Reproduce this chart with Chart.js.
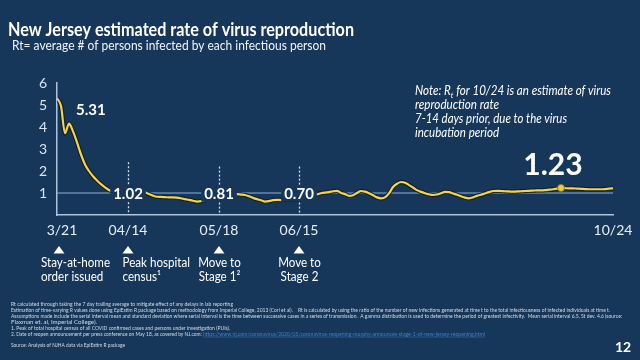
<!DOCTYPE html>
<html><head><meta charset="utf-8">
<script src="https://cdn.jsdelivr.net/npm/chart.js@4.4.1/dist/chart.umd.min.js"></script>
<style>html,body{margin:0;padding:0;background:#17375a;overflow:hidden}</style>
</head><body>
<canvas id="c" width="640" height="360"></canvas>
<script>
// ---- data ----
const RT_VALUES = [
5.31,4.95,3.71,4.15,3.80,3.30,2.75,2.30,2.00,1.76,
1.57,1.40,1.26,1.14,1.06,1.04,1.03,1.02,1.02,1.03,
1.04,1.04,1.03,0.95,0.88,0.83,0.82,0.81,0.80,0.80,
0.79,0.76,0.72,0.69,0.65,0.61,0.63,0.70,0.76,0.80,
0.81,0.84,0.88,0.92,0.95,0.95,0.93,0.91,0.85,0.78,
0.72,0.67,0.61,0.63,0.68,0.69,0.68,0.69,0.70,0.70,
0.70,0.72,0.78,0.84,0.89,0.94,0.99,1.02,1.04,1.08,
1.10,1.00,0.95,0.87,0.90,1.00,1.09,1.06,0.99,0.90,
0.80,0.76,0.80,0.98,1.27,1.42,1.50,1.47,1.36,1.25,
1.13,1.05,0.99,0.94,0.91,0.93,0.99,1.05,1.04,0.98,
0.92,0.85,0.79,0.76,0.80,0.87,0.92,0.98,1.04,1.09,
1.10,1.09,1.08,1.07,1.06,1.07,1.08,1.09,1.10,1.11,
1.12,1.12,1.13,1.15,1.17,1.20,1.23,1.22,1.21,1.21,
1.20,1.19,1.18,1.17,1.17,1.17,1.17,1.18,1.20,1.21
];
const TICK_POS = [1.25, 17.75, 40.5, 60.5, 139];
const TICK_LABELS = ['3/21', '04/14', '05/18', '06/15', '10/24'];
const Y_TICKS = [1, 2, 3, 4, 5, 6];
const MILESTONE_TEXT = [['Stay-at-home', 'order issued'], ['Peak hospital', 'census\u00b9'], ['Move to', 'Stage 1\u00b2'], ['Move to', 'Stage 2']];
const MILESTONE_VALUES = ['1.02', '0.81', '0.70'];
const PEAK_INDEX = 0, PEAK_LABEL = '5.31';
const LATEST_INDEX = 126, LATEST_VALUE = 1.23, LATEST_LABEL = '1.23';

const TITLE = 'New Jersey estimated rate of virus reproduction';
const SUBTITLE = 'Rt= average # of persons infected by each infectious person';
const NOTE_LINES = ['reproduction rate', '7-14 days prior, due to the virus', 'incubation period'];
const FOOTNOTES = [
 'Rt calculated through taking the 7 day trailing average to mitigate effect of any delays in lab reporting',
 'Estimation of time-varying R values done using EpiEstim R package based on methodology from Imperial College, 2013 (Cori et al).    Rt is calculated by using the ratio of the number of new infections generated at time t to the total infectiousness of infected individuals at time t.',
 'Assumptions made include the serial interval mean and standard deviation where serial interval is the time between successive cases in a series of transmission.  A gamma distribution is used to determine the period of greatest infectivity.  Mean serial interval 6.5, St dev. 4.6 (source:',
 'Flaxman et. al, Imperial College).',
 '1. Peak of total hospital census of all COVID confirmed cases and persons under investigation (PUIs).',
 '2. Date of reopen announcement per press conference on May 18, as covered by NJ.com: '
];
const FOOT_LINK = 'https://www.nj.com/coronavirus/2020/05/coronavirus-reopening-murphy-announces-stage-1-of-new-jersey-reopening.html';
const SOURCE = 'Source: Analysis of NJHA data via EpiEstim R package';
const PAGE = '12';

// ---- style ----
const BG = '#17375a';
const FONT = 'Lato, "Noto Sans", sans-serif';

function fitText(ctx, text, x, y, w, font, color, align, baseline) {
  ctx.save();
  ctx.font = font; ctx.fillStyle = color; ctx.textAlign = 'left'; ctx.textBaseline = baseline || 'alphabetic';
  const m = ctx.measureText(text).width;
  const s = w ? w / m : 1;
  let x0 = x;
  if (align === 'center') x0 = x - m * s / 2;
  ctx.translate(x0, y); ctx.scale(s, 1); ctx.fillText(text, 0, 0);
  ctx.restore();
  return m * s;
}
function measure(ctx, text, font) { ctx.save(); ctx.font = font; const w = ctx.measureText(text).width; ctx.restore(); return w; }

const deco = {
  id: 'deco',
  beforeDraw(chart) {
    const c = chart.ctx; c.save(); c.fillStyle = BG; c.fillRect(0, 0, chart.width, chart.height); c.restore();
  },
  beforeDatasetsDraw(chart) {
    const { ctx, chartArea: a, scales: { x, y } } = chart;
    ctx.save();
    ctx.strokeStyle = '#8fb1da'; ctx.lineWidth = 1.2;
    const y1 = y.getPixelForValue(1);
    ctx.beginPath(); ctx.moveTo(a.left, y1); ctx.lineTo(a.right, y1); ctx.stroke();
    ctx.setLineDash([2, 2]); ctx.strokeStyle = '#d5dfeb'; ctx.lineWidth = 1.3;
    const tops = [2.4, 2.2, 2.2];
    [1, 2, 3].forEach((k, j) => {
      const px = Math.round(x.getPixelForValue(TICK_POS[k])) + 0.5;
      ctx.beginPath(); ctx.moveTo(px, y.getPixelForValue(tops[j])); ctx.lineTo(px, a.bottom); ctx.stroke();
    });
    ctx.restore();
  },
  afterDatasetsDraw(chart) {
    const { ctx, chartArea: a, scales: { x, y } } = chart;
    ctx.save();
    // milestone value labels
    ctx.font = 'bold 15px ' + FONT; ctx.textBaseline = 'middle'; ctx.textAlign = 'center';
    MILESTONE_VALUES.forEach((t, j) => {
      const cx = x.getPixelForValue(TICK_POS[j + 1]);
      const cy = y.getPixelForValue(1) + 0.5;
      const w = ctx.measureText(t).width;
      ctx.fillStyle = BG; ctx.fillRect(cx - w / 2 - 3, cy - 8, w + 6, 16);
      ctx.fillStyle = '#ffffff'; ctx.fillText(t, cx, cy + 0.5);
    });
    // peak label
    ctx.textAlign = 'left';
    ctx.fillText(PEAK_LABEL, x.getPixelForValue(PEAK_INDEX) + 19, y.getPixelForValue(RT_VALUES[PEAK_INDEX]) + 12);
    // latest label
    ctx.font = 'bold 30px ' + FONT; ctx.textAlign = 'center';
    ctx.fillText(LATEST_LABEL, x.getPixelForValue(LATEST_INDEX) - 8, y.getPixelForValue(LATEST_VALUE) - 23);
    ctx.restore();
    // milestone triangles & text
    const base = a.bottom;
    const mf = '13.5px ' + FONT, SX = 0.86;
    TICK_POS.slice(0, 4).forEach((p, k) => {
      let px = x.getPixelForValue(p);
      if (k === 0) px -= 3;
      ctx.save();
      ctx.fillStyle = '#ffffff';
      ctx.beginPath(); ctx.moveTo(px, base + 31); ctx.lineTo(px + 5.5, base + 38.5); ctx.lineTo(px - 5.5, base + 38.5); ctx.closePath(); ctx.fill();
      ctx.restore();
      MILESTONE_TEXT[k].forEach((ln, r) => {
        const yy = base + 47.5 + r * 14.5;
        const w = measure(ctx, ln, mf) * SX;
        if (k === 0) fitText(ctx, ln, px - 18, yy, w, mf, '#ffffff', 'left', 'middle');
        else if (k === 1) fitText(ctx, ln, px - 5.5, yy, w, mf, '#ffffff', 'left', 'middle');
        else fitText(ctx, ln, px + 0.5, yy, w, mf, '#ffffff', 'center', 'middle');
      });
    });
  },
  afterDraw(chart) {
    const ctx = chart.ctx;
    fitText(ctx, TITLE, 8, 36, 346, 'bold 18px ' + FONT, '#ffffff');
    fitText(ctx, SUBTITLE, 12, 50, 314, '14px ' + FONT, '#f2f5f9');
    // note, first line with subscript
    ctx.save();
    const segs = [['Note: R', 12.5, 0], ['t', 8, 2.5], [' for 10/24 is an estimate of virus', 12.5, 0]];
    let tot = 0;
    segs.forEach(s => { ctx.font = 'italic ' + s[1] + 'px ' + FONT; tot += ctx.measureText(s[0]).width; });
    const sc = 196 / tot;
    ctx.translate(415, 95); ctx.scale(sc, 1); ctx.fillStyle = '#ffffff'; ctx.textBaseline = 'alphabetic';
    let cx = 0;
    segs.forEach(s => { ctx.font = 'italic ' + s[1] + 'px ' + FONT; ctx.fillText(s[0], cx, s[2]); cx += ctx.measureText(s[0]).width; });
    ctx.restore();
    const noteW = [84, 152, 84];
    NOTE_LINES.forEach((t, i) => fitText(ctx, t, 415, 108.5 + i * 14, noteW[i], 'italic 12.5px ' + FONT, '#ffffff'));
    // footnotes
    const fw = [222, 599, 611, 86, 219, 192];
    const fy = [306, 312, 318, 324, 330, 336];
    FOOTNOTES.forEach((t, i) => fitText(ctx, t, 11, fy[i], fw[i], '5px ' + FONT, '#d3dbe6'));
    const lw = fitText(ctx, FOOT_LINK, 203, 336, 282, '5px ' + FONT, '#3f7fd0');
    ctx.save(); ctx.strokeStyle = '#3f7fd0'; ctx.lineWidth = 0.5; ctx.beginPath(); ctx.moveTo(203, 337); ctx.lineTo(203 + lw, 337); ctx.stroke(); ctx.restore();
    fitText(ctx, SOURCE, 11, 347, 114, '5px ' + FONT, '#d3dbe6');
    fitText(ctx, PAGE, 623, 352, 0, 'bold 14px ' + FONT, '#ffffff', 'center');
  }
};

new Chart(document.getElementById('c'), {
  type: 'line',
  data: {
    datasets: [
      { data: [{ x: LATEST_INDEX, y: LATEST_VALUE }], showLine: false, pointRadius: 3.5, pointBackgroundColor: '#f2cf3a', pointBorderColor: '#8a7a20', pointBorderWidth: 1, order: 0 },
      { data: RT_VALUES.map((v, i) => ({ x: i, y: v })), borderColor: '#f2d44e', borderWidth: 2.2, pointRadius: 0, cubicInterpolationMode: 'monotone', order: 1 },
      { data: RT_VALUES.map((v, i) => ({ x: i, y: v })), borderColor: 'rgba(18,22,24,0.8)', borderWidth: 4.4, pointRadius: 0, cubicInterpolationMode: 'monotone', order: 2 }
    ]
  },
  options: {
    responsive: false, animation: false, devicePixelRatio: 1,
    layout: { padding: { top: 83, right: 27, left: 0, bottom: 0 } },
    plugins: { legend: { display: false }, tooltip: { enabled: false } },
    scales: {
      x: {
        type: 'linear', min: 0, max: RT_VALUES.length - 1,
        grid: { display: false, drawTicks: false },
        border: { display: true, color: '#aec3de', width: 1.5 },
        afterBuildTicks: s => { s.ticks = TICK_POS.map(v => ({ value: v })); },
        afterFit: s => { s.height = 145; },
        ticks: { autoSkip: false, maxRotation: 0, padding: 7, color: '#e8eef5', font: { family: FONT, size: 14 },
          callback: (v, i) => TICK_LABELS[i] }
      },
      y: {
        min: 0, max: 6,
        grid: { display: false, drawTicks: false },
        border: { display: true, color: '#aec3de', width: 1.5 },
        afterBuildTicks: s => { s.ticks = Y_TICKS.map(v => ({ value: v })); },
        afterFit: s => { s.width = 57; },
        ticks: { padding: 10, color: '#dbe5f0', font: { family: FONT, size: 14 } }
      }
    }
  },
  plugins: [deco]
});
</script>
</body></html>
